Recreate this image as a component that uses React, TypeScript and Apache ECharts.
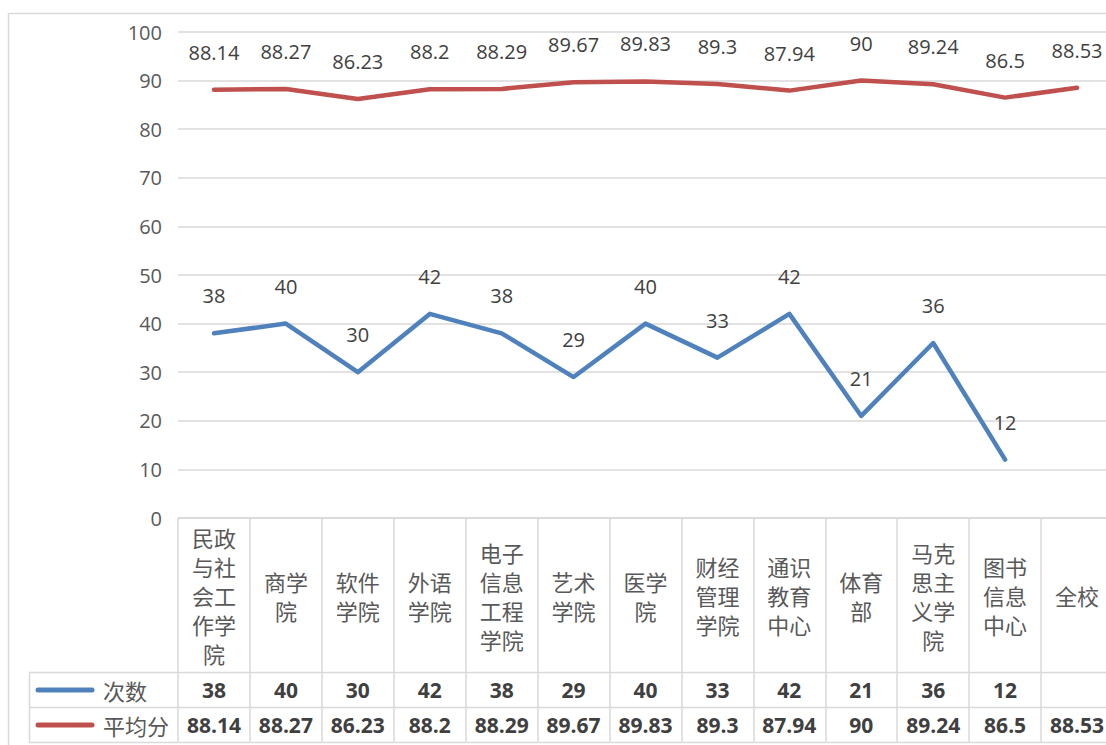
import React, { useEffect, useRef } from "react";
import * as echarts from "echarts";

const categories = [
  "民政与社会工作学院",
  "商学院",
  "软件学院",
  "外语学院",
  "电子信息工程学院",
  "艺术学院",
  "医学院",
  "财经管理学院",
  "通识教育中心",
  "体育部",
  "马克思主义学院",
  "图书信息中心",
  "全校",
];
const counts: (number | null)[] = [38, 40, 30, 42, 38, 29, 40, 33, 42, 21, 36, 12, null];
const averages: number[] = [88.14, 88.27, 86.23, 88.2, 88.29, 89.67, 89.83, 89.3, 87.94, 90, 89.24, 86.5, 88.53];
const seriesNames = ["次数", "平均分"];
const yMin = 0;
const yMax = 100;
const yStep = 10;

const BLUE = "#4F81BD";
const RED = "#C0504D";
const GRID = "#D9D9D9";
const NUM_FONT = "'Open Sans', 'Liberation Sans', sans-serif";
const CJK_FONT = "'Noto Sans CJK SC', sans-serif";

function wrap2(s: string): string {
  const parts: string[] = [];
  for (let i = 0; i < s.length; i += 2) parts.push(s.slice(i, i + 2));
  return parts.join("\n");
}

export default function App() {
  const ref = useRef<HTMLDivElement>(null);
  useEffect(() => {
    if (!ref.current) return;
    const chart = echarts.init(ref.current, null, { renderer: "svg" });
    const gridLeft = 178;
    const gridTop = 32;
    const gridWidth = 935;
    const gridHeight = 486;
    const axisY = gridTop + gridHeight; // 518
    const row1 = 690;
    const row2 = 725;
    const valueAxisLabel = (margin: number) => ({
      interval: 0,
      margin,
      verticalAlign: "middle",
      color: "#404040",
      fontSize: 21,
      fontWeight: "bold",
      fontFamily: NUM_FONT,
    });
    chart.setOption({
      animation: false,
      backgroundColor: "#ffffff",
      grid: { left: gridLeft, top: gridTop, width: gridWidth, height: gridHeight, containLabel: false },
      xAxis: [
        {
          type: "category",
          data: categories,
          boundaryGap: true,
          axisLine: { show: true, lineStyle: { color: GRID, width: 1.5 } },
          axisTick: { show: true, inside: false, length: 742 - axisY, alignWithLabel: false, lineStyle: { color: GRID, width: 1.5 } },
          axisLabel: {
            interval: 0,
            margin: 77,
            verticalAlign: "middle",
            lineHeight: 29,
            color: "#595959",
            fontSize: 22,
            fontFamily: CJK_FONT,
            formatter: (v: string) => wrap2(v),
          },
          splitLine: { show: false },
        },
        {
          type: "category",
          data: counts.map((v) => (v == null ? "" : String(v))),
          position: "bottom",
          axisLine: { show: false },
          axisTick: { show: false },
          axisLabel: valueAxisLabel(row1 - axisY),
        },
        {
          type: "category",
          data: averages.map((v) => String(v)),
          position: "bottom",
          axisLine: { show: false },
          axisTick: { show: false },
          axisLabel: valueAxisLabel(row2 - axisY),
        },
      ],
      yAxis: {
        type: "value",
        min: yMin,
        max: yMax,
        interval: yStep,
        axisLine: { show: false },
        axisTick: { show: false },
        axisLabel: { color: "#595959", fontSize: 20, margin: 16, fontFamily: NUM_FONT },
        splitLine: { lineStyle: { color: GRID, width: 1.5 } },
      },
      series: [
        {
          name: seriesNames[0],
          type: "line",
          data: counts,
          xAxisIndex: 0,
          symbol: "circle",
          symbolSize: 1,
          itemStyle: { color: BLUE },
          lineStyle: { color: BLUE, width: 4.5, cap: "round", join: "round" },
          label: { show: true, position: "top", distance: 27, color: "#404040", fontSize: 20, fontFamily: NUM_FONT },
          connectNulls: false,
        },
        {
          name: seriesNames[1],
          type: "line",
          data: averages,
          xAxisIndex: 0,
          symbol: "circle",
          symbolSize: 1,
          itemStyle: { color: RED },
          lineStyle: { color: RED, width: 4.5, cap: "round", join: "round" },
          label: { show: true, position: "top", distance: 27, color: "#404040", fontSize: 20, fontFamily: NUM_FONT },
        },
      ],
      graphic: [
        { type: "rect", shape: { x: 8.5, y: 13.5, width: 1200, height: 800 }, style: { fill: "none", stroke: GRID, lineWidth: 1.5 }, silent: true },
        { type: "line", shape: { x1: 29, y1: 672.5, x2: 1113, y2: 672.5 }, style: { stroke: GRID, lineWidth: 1.5 } },
        { type: "line", shape: { x1: 29, y1: 707.5, x2: 1113, y2: 707.5 }, style: { stroke: GRID, lineWidth: 1.5 } },
        { type: "line", shape: { x1: 29, y1: 742.5, x2: 1113, y2: 742.5 }, style: { stroke: GRID, lineWidth: 1.5 } },
        { type: "line", shape: { x1: 29.5, y1: 672, x2: 29.5, y2: 743 }, style: { stroke: GRID, lineWidth: 1.5 } },
        { type: "line", shape: { x1: 38, y1: row1, x2: 92, y2: row1 }, style: { stroke: BLUE, lineWidth: 5, lineCap: "round" } },
        { type: "line", shape: { x1: 38, y1: row2, x2: 92, y2: row2 }, style: { stroke: RED, lineWidth: 5, lineCap: "round" } },
        { type: "text", x: 103, y: row1, style: { text: seriesNames[0], fill: "#595959", fontSize: 22, fontFamily: CJK_FONT, verticalAlign: "middle", align: "left" } },
        { type: "text", x: 103, y: row2, style: { text: seriesNames[1], fill: "#595959", fontSize: 22, fontFamily: CJK_FONT, verticalAlign: "middle", align: "left" } },
      ],
    });
    return () => chart.dispose();
  }, []);
  return (
    <div style={{ position: "absolute", left: 0, top: 0, width: 1106, height: 745, overflow: "hidden" }}>
      <div ref={ref} style={{ width: 1125, height: 745 }} />
    </div>
  );
}
